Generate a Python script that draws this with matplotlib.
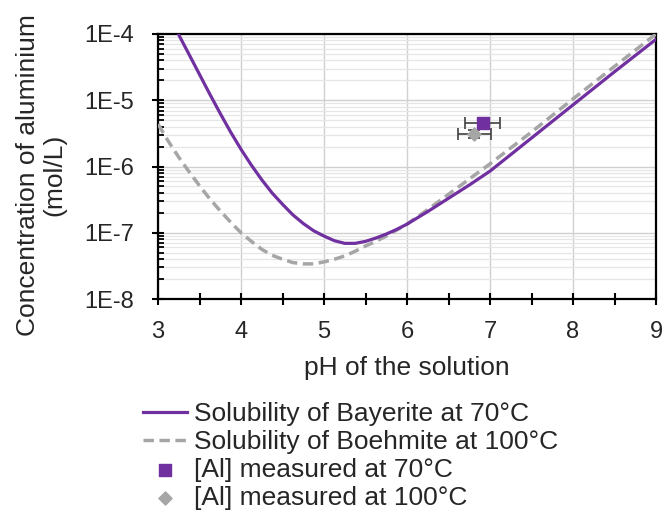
import matplotlib
matplotlib.use("Agg")
import matplotlib.pyplot as plt
import numpy as np
from matplotlib.ticker import FixedLocator, FixedFormatter, LogLocator, NullFormatter, MultipleLocator

plt.rcParams['font.family'] = ['Liberation Sans', 'DejaVu Sans']

# Bayerite solubility at 70 C
ph_bay = [3.245, 3.375, 3.5, 3.625, 3.75, 3.875, 4.0, 4.125, 4.25, 4.375, 4.5, 4.625, 4.75, 4.875,
          5.0, 5.125, 5.25, 5.375, 5.5, 5.625, 5.75, 5.875, 6.0, 6.25, 6.5, 6.75, 7.0, 7.5, 8.0, 8.5, 9.0]
log_bay = [-4.00, -4.31, -4.61, -4.91, -5.20, -5.48, -5.74, -5.98, -6.20, -6.40, -6.57, -6.73, -6.86, -6.97,
           -7.05, -7.12, -7.16, -7.16, -7.13, -7.08, -7.02, -6.95, -6.87, -6.68, -6.48, -6.28, -6.07, -5.57, -5.07, -4.57, -4.08]

# Boehmite solubility at 100 C
ph_boe = [3.0, 3.125, 3.25, 3.375, 3.5, 3.625, 3.75, 3.875, 4.0, 4.125, 4.25, 4.375, 4.5, 4.625, 4.75, 4.875,
          5.0, 5.125, 5.25, 5.375, 5.5, 5.625, 5.75, 5.875, 6.0, 6.25, 6.5, 7.0, 7.5, 8.0, 8.5, 9.0]
log_boe = [-5.36, -5.62, -5.86, -6.08, -6.29, -6.49, -6.67, -6.84, -7.00, -7.13, -7.25, -7.34, -7.40, -7.45, -7.47, -7.47,
           -7.44, -7.40, -7.35, -7.28, -7.20, -7.13, -7.05, -6.96, -6.87, -6.65, -6.42, -5.96, -5.48, -4.98, -4.49, -4.00]

# Measured points
ph_70, al_70, xerr_70 = [6.91], [4.6e-6], [0.21]
ph_100, al_100, xerr_100 = [6.81], [3.1e-6], [0.20]
yerr_100_low, yerr_100_high = [0.45e-6], [0.45e-6]

labels = ["Solubility of Bayerite at 70°C", "Solubility of Boehmite at 100°C",
          "[Al] measured at 70°C", "[Al] measured at 100°C"]
y_ticks = [1e-8, 1e-7, 1e-6, 1e-5, 1e-4]
y_ticklabels = ["1E-8", "1E-7", "1E-6", "1E-5", "1E-4"]

purple = "#7030A0"
grey = "#A6A6A6"
txt = "#262626"

W, H = 663, 529
fig = plt.figure(figsize=(W/100, H/100), dpi=100)
ax = fig.add_axes([158/W, 1-299/H, (656-158)/W, (299-34)/H])

l1, = ax.plot(ph_bay, 10**np.array(log_bay), color=purple, lw=2.3, label=labels[0], zorder=4)
l2, = ax.plot(ph_boe, 10**np.array(log_boe), color=grey, lw=2.5, ls=(0, (3, 1.6)), label=labels[1], zorder=3)

ax.errorbar(ph_70, al_70, xerr=xerr_70, fmt='none', ecolor='#404040', elinewidth=1.2, capsize=4, capthick=1.2, zorder=5)
ax.errorbar(ph_100, al_100, xerr=xerr_100, yerr=[yerr_100_low, yerr_100_high], fmt='none', ecolor='#404040',
            elinewidth=1.2, capsize=4, capthick=1.2, zorder=5)
p1 = ax.scatter(ph_70, al_70, marker='s', s=80, color=purple, label=labels[2], zorder=6)
p2 = ax.scatter(ph_100, al_100, marker='D', s=45, color=grey, label=labels[3], zorder=6)

ax.set_yscale('log')
ax.set_xlim(3, 9)
ax.set_ylim(1e-8, 1e-4)
ax.yaxis.set_major_locator(FixedLocator(y_ticks))
ax.yaxis.set_major_formatter(FixedFormatter(y_ticklabels))
ax.yaxis.set_minor_locator(LogLocator(base=10, subs=np.arange(2, 10)))
ax.yaxis.set_minor_formatter(NullFormatter())
ax.xaxis.set_major_locator(MultipleLocator(1))
ax.xaxis.set_minor_locator(MultipleLocator(0.5))

ax.grid(True, which='major', axis='both', color='#D0D0D0', lw=1.0, zorder=0)
ax.grid(True, which='minor', axis='y', color='#E6E6E6', lw=0.9, zorder=0)
ax.set_axisbelow(True)

for s in ax.spines.values():
    s.set_color('black')
    s.set_linewidth(1.6)

ax.tick_params(axis='x', which='major', direction='inout', length=9, width=1.5, labelsize=17,
               colors='black', labelcolor=txt, pad=11)
ax.tick_params(axis='x', which='minor', direction='inout', length=9, width=1.5)
ax.tick_params(axis='y', which='major', direction='inout', length=9, width=1.5, labelsize=17,
               labelcolor=txt, pad=13)
ax.tick_params(axis='y', which='minor', direction='in', length=4.5, width=1.3)

fig.text(407/W, 1-368/H, "pH of the solution", fontsize=19, color=txt, ha='center', va='center')
fig.text(41/W, 1-175/H, "Concentration of aluminium\n(mol/L)", fontsize=19, color=txt,
         ha='center', va='center', rotation=90, multialignment='center', linespacing=1.15)

fig.legend(handles=[l1, l2, p1, p2], labels=labels, loc='upper left', bbox_to_anchor=(143/W, 1-402/H),
           frameon=False, fontsize=19, handlelength=1.65, handletextpad=0.3, labelspacing=0.15,
           borderpad=0, borderaxespad=0, labelcolor=txt)

fig.savefig("out.png", dpi=100)
